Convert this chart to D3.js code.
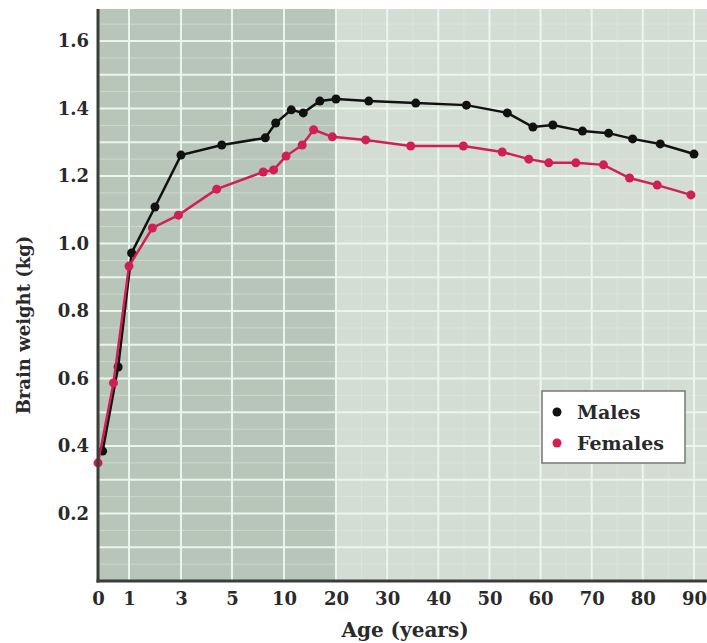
<!DOCTYPE html>
<html>
<head>
<meta charset="utf-8">
<script src="https://cdn.jsdelivr.net/npm/d3@7"></script>
<style>
  body { margin: 0; background: #fff; }
  svg { display: block; }
  text { font-family: "DejaVu Serif", serif; font-weight: bold; fill: #2a2a2a; }
</style>
</head>
<body>
<svg width="707" height="643"></svg>
<script>
// ages (years) and brain weight (kg)
const maleAges = [0.15, 0.65, 1.1, 2, 3, 4.6, 8.2, 9.2, 11.4, 13.7, 16.9, 20, 26.4, 35.6, 45.5, 53.5, 58.5, 62.4, 68.2, 73.3, 78, 83.4, 90];
const males    = [0.385, 0.634, 0.972, 1.108, 1.262, 1.292, 1.313, 1.357, 1.396, 1.387, 1.422, 1.428, 1.422, 1.416, 1.410, 1.387, 1.345, 1.351, 1.333, 1.327, 1.310, 1.295, 1.265];
const femaleAges = [0, 0.5, 1, 1.9, 2.9, 4.4, 8, 9, 10.4, 13.5, 15.7, 19.3, 25.8, 34.6, 44.9, 52.5, 57.7, 61.6, 66.9, 72.3, 77.4, 82.8, 89.4];
const females    = [0.350, 0.587, 0.933, 1.046, 1.084, 1.161, 1.212, 1.218, 1.259, 1.292, 1.337, 1.316, 1.307, 1.289, 1.289, 1.271, 1.250, 1.239, 1.239, 1.233, 1.194, 1.173, 1.144];

const xTicks = [0, 1, 3, 5, 10, 20, 30, 40, 50, 60, 70, 80, 90];
const yTicks = [0.2, 0.4, 0.6, 0.8, 1.0, 1.2, 1.4, 1.6];
const series = [
  { name: 'Males', ages: maleAges, values: males, color: '#111' },
  { name: 'Females', ages: femaleAges, values: females, color: '#d11f55' }
];

const svg = d3.select('svg');
const plotL = 98, plotR = 707, plotT = 9, plotB = 581;

// piecewise age axis: stretched below 20 years
const x = d3.scaleLinear()
    .domain([0, 1, 3, 5, 10, 20, 90])
    .range([98, 129, 181, 232, 284, 336, 694]);
const y = d3.scaleLinear()
    .domain([0, 1.6])
    .range([plotB, 41]);

// background panels
svg.append('rect')
    .attr('x', plotL).attr('y', plotT)
    .attr('width', plotR - plotL).attr('height', plotB - plotT)
    .attr('fill', '#d4ddd4');
svg.append('rect')
    .attr('x', plotL).attr('y', plotT)
    .attr('width', x(20) - plotL).attr('height', plotB - plotT)
    .attr('fill', '#b8c6ba');

// grid
const grid = svg.append('g');
const minorY = d3.range(0.05, 1.7, 0.1);
const majorY = d3.range(0.1, 1.7, 0.1);
grid.selectAll('.gy2').data(minorY).enter().append('line')
    .attr('x1', plotL).attr('x2', plotR)
    .attr('y1', d => y(d)).attr('y2', d => y(d))
    .attr('stroke', '#e6efe6').attr('stroke-width', 1).attr('opacity', 0.45);
grid.selectAll('.gy').data(majorY).enter().append('line')
    .attr('x1', plotL).attr('x2', plotR)
    .attr('y1', d => y(d)).attr('y2', d => y(d))
    .attr('stroke', '#eaf5ec').attr('stroke-width', 2);
const minorX = [25, 35, 45, 55, 65, 75, 85];
grid.selectAll('.gx2').data(minorX).enter().append('line')
    .attr('x1', d => x(d)).attr('x2', d => x(d))
    .attr('y1', plotT).attr('y2', plotB)
    .attr('stroke', '#e6efe6').attr('stroke-width', 1).attr('opacity', 0.45);
grid.selectAll('.gx').data(xTicks.slice(1)).enter().append('line')
    .attr('x1', d => x(d)).attr('x2', d => x(d))
    .attr('y1', plotT).attr('y2', plotB)
    .attr('stroke', '#eaf5ec').attr('stroke-width', 2);

// lines and dots
const line = d3.line()
    .x(d => x(d[0]))
    .y(d => y(d[1]));

series.forEach(s => {
  const pts = s.ages.map((a, i) => [a, s.values[i]]);
  svg.append('path')
      .datum(pts)
      .attr('d', line)
      .attr('fill', 'none')
      .attr('stroke', s.color)
      .attr('stroke-width', 2.5);
  svg.append('g').selectAll('circle')
      .data(pts)
      .enter()
      .append('circle')
      .attr('cx', d => x(d[0]))
      .attr('cy', d => y(d[1]))
      .attr('r', 4.5)
      .attr('fill', s.color);
});

// axes
const xAxis = svg.append('g')
    .attr('transform', `translate(0,${plotB})`)
    .call(d3.axisBottom(x).tickValues(xTicks).tickSize(0).tickPadding(11));
xAxis.select('.domain').remove();
xAxis.selectAll('text').style('font-size', '18px');

const yAxis = svg.append('g')
    .attr('transform', `translate(${plotL},0)`)
    .call(d3.axisLeft(y).tickValues(yTicks).tickSize(0).tickPadding(9).tickFormat(d3.format('.1f')));
yAxis.select('.domain').remove();
yAxis.selectAll('text').style('font-size', '18px');

svg.append('line')
    .attr('x1', plotL).attr('x2', plotL)
    .attr('y1', plotT).attr('y2', plotB + 1.5)
    .attr('stroke', '#3b3d3b').attr('stroke-width', 3);
svg.append('line')
    .attr('x1', plotL - 1.5).attr('x2', plotR)
    .attr('y1', plotB).attr('y2', plotB)
    .attr('stroke', '#3b3d3b').attr('stroke-width', 3);

// axis titles
svg.append('text')
    .attr('x', 405).attr('y', 637)
    .attr('text-anchor', 'middle')
    .style('font-size', '20px')
    .text('Age (years)');
svg.append('text')
    .attr('transform', 'translate(30,325) rotate(-90)')
    .attr('text-anchor', 'middle')
    .style('font-size', '18px')
    .text('Brain weight (kg)');

// legend
const legend = svg.append('g');
legend.append('rect')
    .attr('x', 542).attr('y', 391)
    .attr('width', 143).attr('height', 72)
    .attr('fill', '#fff')
    .attr('stroke', '#777').attr('stroke-width', 1.5);
series.forEach((s, i) => {
  legend.append('circle')
      .attr('cx', 557).attr('cy', 412 + i * 31)
      .attr('r', 4.5)
      .attr('fill', s.color);
  legend.append('text')
      .attr('x', 577).attr('y', 412 + i * 31)
      .attr('dy', '0.35em')
      .style('font-size', '19px')
      .text(s.name);
});
</script>
</body>
</html>
